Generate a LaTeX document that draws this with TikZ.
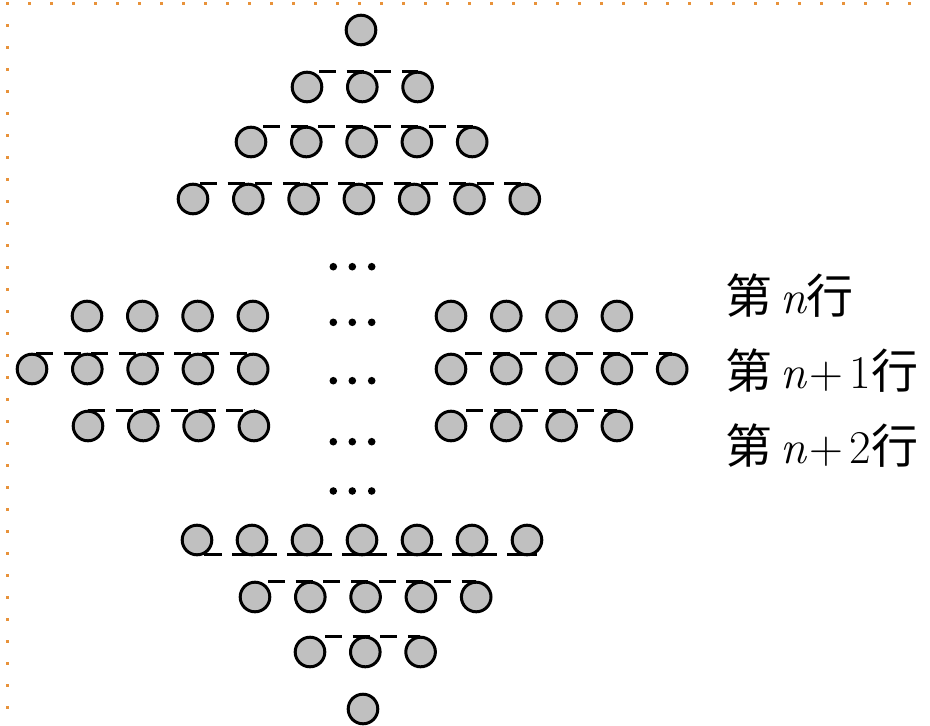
\documentclass[tikz,border=0pt]{standalone}
\usepackage{fontspec}
\newfontfamily\cjk{Noto Sans CJK SC}
\usepackage{tikz}

\definecolor{ballgray}{RGB}{192,192,192}
\definecolor{frameorange}{RGB}{232,146,58}

\tikzset{
  ball/.style={fill=ballgray, draw=black, line width=3pt},
  dashline/.style={line width=3pt, dash pattern=on 17pt off 10.65pt},
  baseline/.style={line width=3pt},
  lbl/.style={anchor=base west, inner sep=0pt, font=\fontsize{47}{47}\selectfont},
}

% one row of balls: y, first x, count
\newcommand{\ballrow}[3]{%
  \foreach \k in {1,...,#3}{
    \filldraw[ball] ({#2+55.3*(\k-1)},#1) circle (14.8pt);
  }%
}
% broken line on top of a row: y, from x, to x
\newcommand{\topdash}[3]{%
  \draw[dashline] (#2,#1-15.5) -- (#3,#1-15.5);%
}

\begin{document}
\begin{tikzpicture}[x=1pt, y=-1pt]
  \useasboundingbox (0,0) rectangle (930,726);

  % Frame dots
  \foreach \k in {0,...,41}{
    \fill[frameorange] ({5.8+22*\k},1.8) rectangle +(3,3);
  }
  \foreach \k in {1,...,32}{
    \fill[frameorange] (5.8,{1.8+22*\k}) rectangle +(3,3);
  }

  % Upper triangle
  \ballrow{30}{361}{1}
  \ballrow{87}{307}{3}
  \ballrow{142}{251}{5}
  \ballrow{199}{193}{7}

  % Middle rows
  \ballrow{316}{87}{4}
  \ballrow{316}{451}{4}
  \ballrow{369}{32}{5}
  \ballrow{369}{451}{5}
  \ballrow{426}{88}{4}
  \ballrow{426}{451}{4}

  % Lower triangle
  \foreach \k in {1,...,7}{
    \filldraw[ball] ({197+55*(\k-1)},540) circle (14.8pt);
  }
  \ballrow{597}{255}{5}
  \ballrow{652}{310}{3}
  \ballrow{709}{363}{1}

  % Broken lines
  \topdash{87}{319}{418}
  \topdash{142}{263}{473}
  \topdash{199}{200}{521}
  \topdash{369}{36}{254}
  \topdash{369}{465}{672}
  \topdash{426}{88}{254}
  \topdash{426}{466}{617}
  \topdash{597}{268}{476}
  \topdash{652}{325}{420}

  % Underline of the long bottom row
  \draw[baseline] (204,554.5) -- (222,554.5);
  \foreach \k in {2,...,6}{
    \draw[baseline] ({197+55*(\k-1)-20},554.5) -- ({197+55*(\k-1)+25},554.5);
  }
  \draw[baseline] (507,554.5) -- (537,554.5);

  % Ellipses
  \foreach \y in {266.7,322.3,380.7,441.7,491}{
    \foreach \x in {333.3,352.3,371.7}{
      \fill (\x,\y) circle (3.8pt);
    }
  }

  % Row labels
  \node[lbl] (rowA) at (725,313) {{\cjk 第}\,\textit{n}{\cjk 行}};
  \node[lbl] (rowB) at (725,388) {{\cjk 第}\,\textit{n}\hspace{3pt}+\hspace{6pt}1{\cjk 行}};
  \node[lbl] (rowC) at (725,463) {{\cjk 第}\,\textit{n}\hspace{3pt}+\hspace{6pt}2{\cjk 行}};
\end{tikzpicture}
\end{document}
